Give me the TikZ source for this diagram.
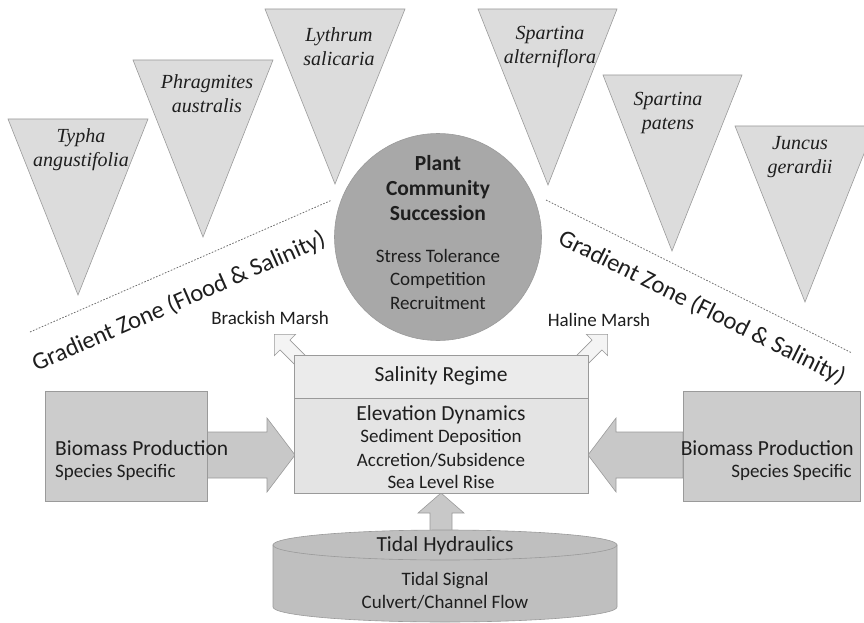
\documentclass[tikz,border=0pt]{standalone}
\usepackage{fontspec}
\setmainfont{Carlito}
\newfontfamily\tms{Liberation Serif}
\usetikzlibrary{calc}
\definecolor{bord}{HTML}{9A9A9A}
\definecolor{trifill}{HTML}{DCDCDC}
\definecolor{circfill}{HTML}{A8A8A8}
\definecolor{biofill}{HTML}{CCCCCC}
\definecolor{salfill}{HTML}{EBEBEB}
\definecolor{elevfill}{HTML}{E4E4E4}
\definecolor{cylfill}{HTML}{BFBFBF}
\definecolor{arrfill}{HTML}{C8C8C8}
\definecolor{hollow}{HTML}{F4F4F4}
\definecolor{txt}{HTML}{1E1E1E}
\definecolor{dotc}{HTML}{6E6E6E}
\newcommand{\barrow}[7]{%
  \begin{scope}[shift={#2},rotate=#3]
    \draw[#1] (0,-#6) -- (#4-#5,-#6) -- (#4-#5,-#7) -- (#4,0) -- (#4-#5,#7) -- (#4-#5,#6) -- (0,#6) -- cycle;
  \end{scope}}
\begin{document}
\begin{tikzpicture}[x=1pt,y=1pt,
  every node/.style={text=txt},
  tri/.style={draw=bord, fill=trifill, line width=0.6pt},
  sp/.style={font=\tms\itshape\fontsize{20}{24}\selectfont, align=center, inner sep=0},
  big/.style={font=\fontsize{21.5}{25}\selectfont, inner sep=0},
  gradtxt/.style={font=\fontsize{24.5}{28}\selectfont, inner sep=0},
  small/.style={font=\fontsize{19}{23}\selectfont, inner sep=0},
  blk/.style={draw=bord, fill=arrfill, line width=0.6pt},
  hol/.style={draw=bord, fill=hollow, line width=0.6pt},
  grad/.style={draw=dotc, line width=0.8pt, dash pattern=on 1.6pt off 1.6pt},
  boxs/.style={draw=bord, line width=0.6pt, inner sep=0}
  ]
\useasboundingbox (0,0) rectangle (864,-623);
% triangles
\draw[tri] (8,-119) -- (148,-119) -- (78,-295) -- cycle;
\draw[tri] (133,-60) -- (273,-60) -- (203,-237) -- cycle;
\draw[tri] (265,-9) -- (405,-9) -- (335,-184) -- cycle;
\draw[tri] (478,-9) -- (617,-9) -- (548,-185) -- cycle;
\draw[tri] (603,-75) -- (742,-75) -- (672,-251) -- cycle;
\draw[tri] (735,-126) -- (875,-126) -- (805,-302) -- cycle;
\node[sp] (typha) at (81,-150) {Typha\\angustifolia};
\node[sp] (phrag) at (207,-94) {Phragmites\\australis};
\node[sp] (lyth) at (339,-47) {Lythrum\\salicaria};
\node[sp] (spalt) at (550,-47) {Spartina\\alterniflora};
\node[sp] (spat) at (668,-113) {Spartina\\patens};
\node[sp] (junc) at (800,-157) {Juncus\\gerardii};
% circle
\node[circle, draw=bord, fill=circfill, line width=0.6pt, minimum size=207, inner sep=0] (plant) at (438,-237) {};
\node[font=\bfseries\fontsize{21.5}{25}\selectfont, align=center, inner sep=0] (plantt) at (438,-188) {Plant\\Community\\Succession};
\node[small, align=center, font=\fontsize{19}{23.5}\selectfont] (stress) at (438,-279) {Stress Tolerance\\Competition\\Recruitment};
% gradient lines
\coordinate (gl1) at (30,-332);
\coordinate (gl2) at (332,-200);
\coordinate (gr1) at (546,-200);
\coordinate (gr2) at (852,-353);
\draw[grad] (gl1) -- (gl2);
\draw[grad] (gr1) -- (gr2);
\node[gradtxt, rotate=23.6] (gzl) at (179,-302) {Gradient Zone (Flood \& Salinity)};
\node[gradtxt, rotate=-26.5] (gzr) at (702,-308) {Gradient Zone (Flood \& Salinity)};
\node[small] (brack) at (270,-318) {Brackish Marsh};
\node[small] (haline) at (599,-320) {Haline Marsh};
% hollow arrows
\barrow{hol}{(302,-362)}{135}{39}{15}{7}{15}
\barrow{hol}{(580,-362)}{45}{39}{15}{7}{15}
% block arrows
\barrow{blk}{(207,-455)}{0}{88}{28}{23}{37}
\barrow{blk}{(683,-455)}{180}{95}{28}{23}{37}
\barrow{blk}{(441,-532)}{90}{39}{20}{11}{23}
% central boxes
\node[boxs, fill=salfill, minimum width=294, minimum height=43] (sal) at (441,-376.5) {};
\node[big] (salt) at (441,-376) {Salinity Regime};
\node[boxs, fill=elevfill, minimum width=294, minimum height=95] (elev) at (441,-445.5) {};
\node[big] (elevt) at (441,-415) {Elevation Dynamics};
\node[small] (sed) at (441,-437) {Sediment Deposition};
\node[small] (accr) at (441,-460) {Accretion/Subsidence};
\node[small] (sea) at (441,-482) {Sea Level Rise};
% biomass boxes
\node[boxs, fill=biofill, minimum width=162, minimum height=110] (bioL) at (126,-446) {};
\node[big, anchor=west] (bioLt) at (55,-448) {Biomass Production};
\node[small, anchor=west] (bioLs) at (55,-472) {Species Specific};
\node[boxs, fill=biofill, minimum width=177, minimum height=110] (bioR) at (771.5,-446) {};
\node[big, anchor=east] (bioRt) at (854,-448) {Biomass Production};
\node[small, anchor=east] (bioRs) at (852,-472) {Species Specific};
% cylinder
\path[draw=bord, fill=cylfill, line width=0.6pt] (273,-545) -- (273,-607) arc[start angle=180, end angle=360, x radius=172, y radius=15] -- (617,-545) -- cycle;
\path[draw=bord, fill=cylfill, line width=0.6pt] (445,-545) ellipse[x radius=172, y radius=15];
\node[big] (tidal) at (445,-546) {Tidal Hydraulics};
\node[small, align=center, font=\fontsize{19}{23}\selectfont] (tsig) at (445,-591) {Tidal Signal\\Culvert/Channel Flow};
\end{tikzpicture}
\end{document}
